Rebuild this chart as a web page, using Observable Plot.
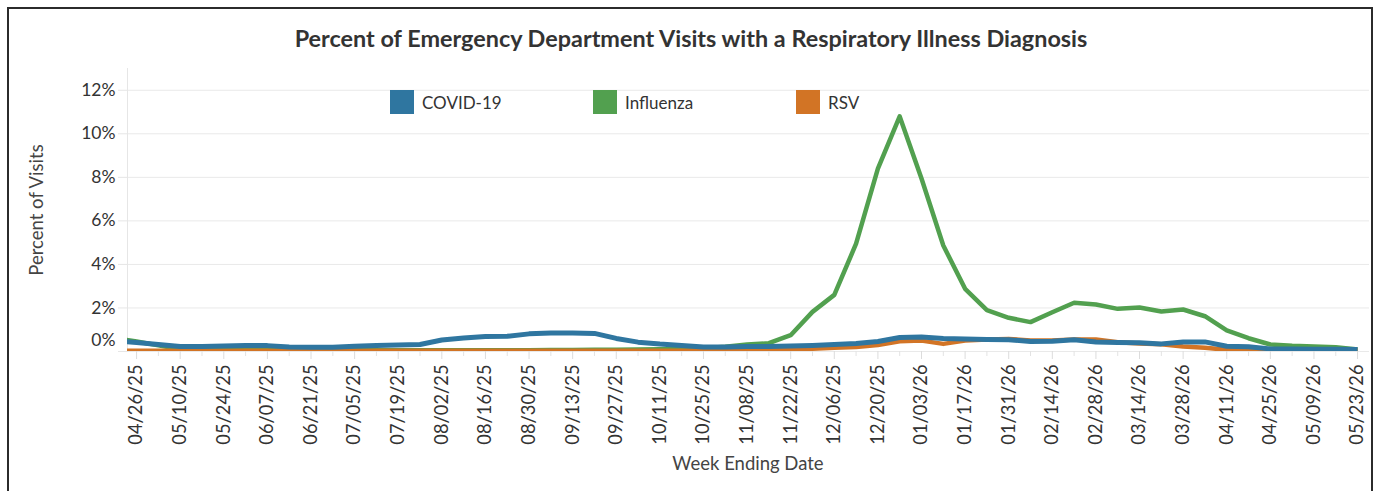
<!DOCTYPE html>
<html>
<head>
<meta charset="utf-8">
<script src="https://cdn.jsdelivr.net/npm/d3@7"></script>
<script src="https://cdn.jsdelivr.net/npm/@observablehq/plot@0.6"></script>
<style>
  body { margin: 0; background: #fff; font-family: Lato, sans-serif; }
  #wrap { position: relative; width: 1377px; height: 491px; overflow: hidden; }
  #border { position: absolute; left: 7px; top: 7px; width: 1362px; height: 520px; border: 2px solid #2b2b2b; pointer-events: none; }
  #title { position: absolute; left: 0; top: 27px; width: 1382px; text-align: center; font-weight: 700; font-size: 23.4px; line-height: 23px; color: #333; }
  .leg { position: absolute; top: 90px; height: 24px; display: flex; align-items: center; font-size: 17px; color: #333; }
  .sw { width: 24px; height: 24px; margin-right: 8px; }
  #xlab { position: absolute; left: 0; width: 1496px; top: 454px; text-align: center; font-size: 18.5px; line-height: 18.5px; color: #444; }
  #ylab { position: absolute; left: 36px; top: 210px; transform: translate(-50%, -50%) rotate(-90deg); font-size: 18.5px; color: #444; white-space: nowrap; }
  #chart { position: absolute; left: 0; top: 0; }
</style>
</head>
<body>
<div id="wrap">
  <div id="chart"></div>
  <div id="title"></div>
  <div id="legend"></div>
  <div id="xlab"></div>
  <div id="ylab"></div>
  <div id="border"></div>
</div>
<script>
// ---- Data ----
const weekEnding = [
  "2025-04-19","2025-04-26","2025-05-03","2025-05-10","2025-05-17","2025-05-24","2025-05-31",
  "2025-06-07","2025-06-14","2025-06-21","2025-06-28",
  "2025-07-05","2025-07-12","2025-07-19","2025-07-26",
  "2025-08-02","2025-08-09","2025-08-16","2025-08-23","2025-08-30",
  "2025-09-06","2025-09-13","2025-09-20","2025-09-27",
  "2025-10-04","2025-10-11","2025-10-18","2025-10-25",
  "2025-11-01","2025-11-08","2025-11-15","2025-11-22","2025-11-29",
  "2025-12-06","2025-12-13","2025-12-20","2025-12-27",
  "2026-01-03","2026-01-10","2026-01-17","2026-01-24","2026-01-31",
  "2026-02-07","2026-02-14","2026-02-21","2026-02-28",
  "2026-03-07","2026-03-14","2026-03-21","2026-03-28",
  "2026-04-04","2026-04-11","2026-04-18","2026-04-25",
  "2026-05-02","2026-05-09","2026-05-16","2026-05-23"
];
const covid = [
  0.50,0.41,0.32,0.23,0.23,0.25,0.27,
  0.27,0.21,0.20,0.20,
  0.24,0.27,0.30,0.32,
  0.53,0.62,0.69,0.70,0.81,
  0.85,0.85,0.83,0.60,
  0.43,0.34,0.28,0.21,
  0.21,0.23,0.23,0.25,0.28,
  0.32,0.37,0.46,0.64,
  0.67,0.60,0.57,0.55,0.54,
  0.46,0.47,0.54,0.44,
  0.41,0.40,0.35,0.44,
  0.44,0.24,0.22,0.12,
  0.12,0.10,0.10,0.09
];
const influenza = [
  0.62,0.46,0.28,0.10,0.07,0.07,0.07,
  0.07,0.06,0.06,0.06,
  0.06,0.06,0.06,0.06,
  0.06,0.06,0.06,0.06,0.06,
  0.07,0.07,0.08,0.08,
  0.09,0.10,0.12,0.15,
  0.22,0.32,0.38,0.75,1.82,
  2.60,4.95,8.40,10.80,
  7.95,4.87,2.88,1.90,1.55,
  1.35,1.80,2.24,2.16,
  1.96,2.02,1.84,1.93,
  1.62,0.97,0.61,0.32,
  0.26,0.23,0.20,0.09
];
const rsv = [
  0.03,0.03,0.03,0.03,0.03,0.03,0.03,
  0.03,0.03,0.03,0.03,
  0.03,0.03,0.03,0.03,
  0.03,0.03,0.03,0.03,0.03,
  0.03,0.03,0.03,0.03,
  0.04,0.04,0.04,0.05,
  0.05,0.06,0.07,0.08,0.13,
  0.17,0.21,0.30,0.47,
  0.50,0.35,0.50,0.55,0.58,
  0.50,0.50,0.55,0.55,
  0.43,0.37,0.33,0.23,
  0.17,0.08,0.06,0.05,
  0.05,0.05,0.05,0.05
];
const seriesNames = ["COVID-19", "Influenza", "RSV"];
const seriesColors = ["#2f76a0", "#52a04f", "#d27425"];
const xTickLabels = [
  "04/26/25","05/10/25","05/24/25","06/07/25","06/21/25","07/05/25","07/19/25","08/02/25",
  "08/16/25","08/30/25","09/13/25","09/27/25","10/11/25","10/25/25","11/08/25","11/22/25",
  "12/06/25","12/20/25","01/03/26","01/17/26","01/31/26","02/14/26","02/28/26","03/14/26",
  "03/28/26","04/11/26","04/25/26","05/09/26","05/23/26"
];
const yTicks = [0, 2, 4, 6, 8, 10, 12];
const titleText = "Percent of Emergency Department Visits with a Respiratory Illness Diagnosis";
const xTitle = "Week Ending Date";
const yTitle = "Percent of Visits";

// ---- Build ----
const parseTick = d3.utcParse("%m/%d/%y");
const dates = weekEnding.map(s => new Date(s + "T00:00:00Z"));
const seriesValues = [covid, influenza, rsv];
const rows = [];
seriesValues.forEach((arr, k) => arr.forEach((v, i) => rows.push({series: seriesNames[k], date: dates[i], value: v})));
const majorTicks = xTickLabels.map(parseTick);
const xDomain = [new Date("2025-04-23T02:00:00Z"), new Date("2026-05-26T20:00:00Z")];
const minorTicks = dates.filter(d => d >= xDomain[0] && d <= xDomain[1] && !majorTicks.some(m => +m === +d));
const fmt = d3.utcFormat("%m/%d/%y");
const colorOf = Object.fromEntries(seriesNames.map((s, i) => [s, seriesColors[i]]));
const lineFor = (name, w) => Plot.line(rows.filter(r => r.series === name), {
  x: "date", y: "value", stroke: colorOf[name], strokeWidth: w, strokeLinejoin: "round", strokeLinecap: "butt", clip: true
});

const chart = Plot.plot({
  width: 1377, height: 491,
  marginLeft: 127, marginRight: 8, marginTop: 68, marginBottom: 140,
  style: {fontFamily: "Lato, sans-serif", fontSize: "17.5px", color: "#333", background: "transparent", overflow: "visible"},
  x: {type: "utc", domain: xDomain},
  y: {domain: [0, 13]},
  marks: [
    Plot.gridY(yTicks, {stroke: "#e9e9e9", strokeOpacity: 1}),
    Plot.frame({anchor: "left", stroke: "#e6e6e6"}),
    Plot.axisY(yTicks, {tickSize: 9, tickPadding: 3, stroke: "#e6e6e6", fill: "#333", tickFormat: d => d === 0 ? "" : d + "%", label: null}),
    Plot.axisY([0], {tickSize: 0, tickPadding: 12, dy: -11, fill: "#333", tickFormat: d => d + "%", label: null}),
    Plot.axisX(minorTicks, {tickSize: 5, stroke: "#e3e3e3", tickFormat: () => "", label: null}),
    Plot.axisX(majorTicks, {tickSize: 8, tickPadding: 5, stroke: "#dcdcdc", fill: "#333", fontSize: 18.3, tickRotate: -90, tickFormat: fmt, label: null}),
    lineFor("Influenza", 4.5),
    lineFor("RSV", 4.5),
    lineFor("COVID-19", 5)
  ]
});
document.getElementById("chart").appendChild(chart);

document.getElementById("title").textContent = titleText;
document.getElementById("xlab").textContent = xTitle;
document.getElementById("ylab").textContent = yTitle;
const legendLeft = [390, 593, 796];
const legend = document.getElementById("legend");
seriesNames.forEach((s, i) => {
  const item = document.createElement("div");
  item.className = "leg";
  item.style.left = legendLeft[i] + "px";
  const sw = document.createElement("div");
  sw.className = "sw";
  sw.style.background = seriesColors[i];
  const tx = document.createElement("span");
  tx.textContent = s;
  item.appendChild(sw);
  item.appendChild(tx);
  legend.appendChild(item);
});
</script>
</body>
</html>
